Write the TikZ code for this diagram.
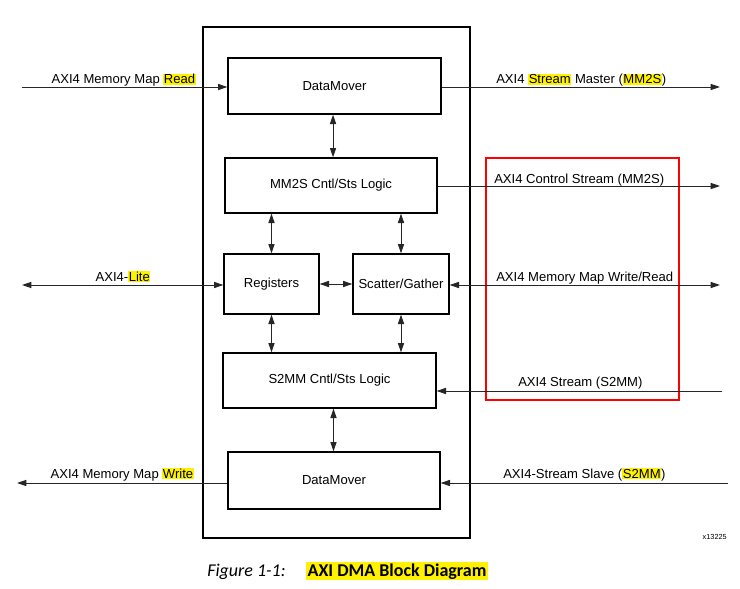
\documentclass[tikz,border=0pt]{standalone}
\usepackage{fontspec}
\setmainfont{Liberation Sans}
\newfontfamily\capfont{Carlito}
\usetikzlibrary{arrows.meta}
\newcommand{\hlt}[1]{{\setlength{\fboxsep}{0.4pt}\colorbox{yellow}{#1}}}
\newcommand{\hlcap}[1]{{\setlength{\fboxsep}{1pt}\colorbox{yellow}{#1}}}
\tikzset{
  blk/.style={draw, line width=1pt, inner sep=0pt, font=\fontsize{9.8}{11}\selectfont},
  sig/.style={line width=0.75pt, draw=black!85},
  tip/.style={-{Triangle[length=7pt,width=4.6pt]}},
  dtip/.style={{Triangle[length=7pt,width=4.6pt]}-{Triangle[length=7pt,width=4.6pt]}},
  lbl/.style={inner sep=0pt, font=\fontsize{9.8}{11}\selectfont},
}
\begin{document}
\begin{tikzpicture}[x=0.75pt,y=-0.75pt]
\useasboundingbox (0,0) rectangle (740,589);
% outer frame
\draw[line width=1pt] (203,27) rectangle (470,538);
% red box
\draw[red, line width=2.2pt] (486,158) rectangle (679,400);
% blocks
\node[blk, minimum width=159.75pt, minimum height=42pt] (dm1) at (334.5,86) {DataMover};
\node[blk, minimum width=159pt, minimum height=41.25pt] (mm2s) at (331,185.5) {MM2S Cntl/Sts Logic};
\node[blk, minimum width=71.25pt, minimum height=45pt] (reg) at (271.5,284) {Registers};
\node[blk, minimum width=72pt, minimum height=45pt] (sg) at (401,284) {Scatter/Gather};
\node[blk, minimum width=159.75pt, minimum height=41.25pt] (s2mm) at (329.5,380.5) {S2MM Cntl/Sts Logic};
\node[blk, minimum width=159pt, minimum height=42.75pt] (dm2) at (334,480.5) {DataMover};
% external coordinates
\coordinate (rdin) at (22,87);
\coordinate (smout) at (720,87);
\coordinate (csout) at (720,186);
\coordinate (lite) at (22,285);
\coordinate (mmwr) at (720,285);
\coordinate (s2in) at (722,391);
\coordinate (wrout) at (17,483);
\coordinate (ssin) at (728,483);
% external connectors
\draw[sig,tip] (rdin) -- (rdin -| dm1.west);
\draw[sig,tip] (smout -| dm1.east) -- (smout);
\draw[sig,tip] (csout -| mm2s.east) -- (csout);
\draw[sig,dtip] (lite) -- (lite -| reg.west);
\draw[sig,dtip] (mmwr -| sg.east) -- (mmwr);
\draw[sig,tip] (s2in) -- (s2in -| s2mm.east);
\draw[sig,tip] (wrout -| dm2.west) -- (wrout);
\draw[sig,tip] (ssin) -- (ssin -| dm2.east);
% internal connectors
\draw[sig,dtip] ([xshift=-1.1pt]dm1.south) -- ([xshift=-1.1pt]dm1.south |- mm2s.north);
\draw[sig,dtip] (reg.north) -- (reg.north |- mm2s.south);
\draw[sig,dtip] (sg.north) -- (sg.north |- mm2s.south);
\draw[sig,dtip] (reg.east) -- (sg.west);
\draw[sig,dtip] (reg.south) -- (reg.south |- s2mm.north);
\draw[sig,dtip] (sg.south) -- (sg.south |- s2mm.north);
\draw[sig,dtip] ([xshift=3pt]s2mm.south) -- ([xshift=3pt]s2mm.south |- dm2.north);
% labels
\node[lbl, anchor=base east] (l1) at (196,84) {AXI4 Memory Map \hlt{Read}};
\node[lbl, anchor=base west] (l2) at (496,84) {AXI4 \hlt{Stream} Master (\hlt{MM2S})};
\node[lbl, anchor=base west] (l3) at (494,183) {AXI4 Control Stream (MM2S)};
\node[lbl, anchor=base] (l4) at (123,281) {AXI4-\hlt{Lite}};
\node[lbl, anchor=base west] (l5) at (496,281) {AXI4 Memory Map Write/Read};
\node[lbl, anchor=base west] (l6) at (518,386) {AXI4 Stream (S2MM)};
\node[lbl, anchor=base east] (l7) at (194,478) {AXI4 Memory Map \hlt{Write}};
\node[lbl, anchor=base west] (l8) at (503,478) {AXI4-Stream Slave (\hlt{S2MM})};
\node[inner sep=0pt, anchor=base east, font=\fontsize{5.5}{6}\selectfont] (code) at (727,539) {x13225};
% caption
\node[inner sep=0pt, anchor=base west, font=\capfont\itshape\fontsize{13.5}{15}\selectfont] (fig) at (207,576) {Figure 1-1:};
\node[inner sep=0pt, anchor=base west, font=\capfont\bfseries\fontsize{13.5}{15}\selectfont] (cap) at (306,576) {\hlcap{AXI DMA Block Diagram}};
\end{tikzpicture}
\end{document}
